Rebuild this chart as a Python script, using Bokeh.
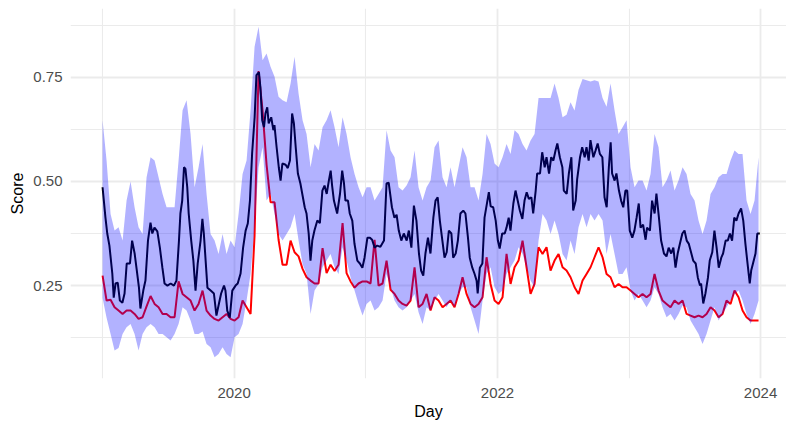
from datetime import datetime, timedelta
from bokeh.plotting import figure
from bokeh.models import Range1d, FixedTicker, DatetimeTickFormatter, PrintfTickFormatter
from bokeh.embed import file_html
from bokeh.resources import INLINE

# ---------------- data ----------------
start = datetime(2019, 1, 1)

# mean score (dark line): day offsets from 2019-01-01 and values
mean_day = [0, 8, 13, 19, 27, 31, 36, 42, 48, 55,
            61, 67, 76, 82, 89, 94, 101, 105, 113, 119,
            126, 133, 138, 144, 152, 159, 166, 172, 180, 189,
            198, 205, 212, 216, 221, 226, 230, 235, 239, 246,
            252, 258, 264, 272, 277, 281, 286, 291, 300, 309,
            316, 323, 329, 337, 341, 346, 353, 360, 369, 375,
            383, 390, 397, 403, 409, 415, 422, 427, 434, 438,
            443, 448, 452, 457, 461, 468, 474, 477, 483, 489,
            494, 499, 508, 514, 520, 526, 531, 536, 542, 549,
            554, 561, 566, 572, 577, 582, 588, 596, 603, 610,
            616, 622, 628, 633, 637, 642, 651, 659, 665, 670,
            674, 681, 686, 693, 699, 707, 714, 721, 727, 735,
            742, 748, 755, 762, 771, 781, 788, 794,
            803, 810, 816, 822, 829, 836, 844, 850, 857, 864,
            871, 878, 884, 890, 896, 903, 910, 918, 924, 930,
            936, 943, 949, 955, 961, 968, 973, 980, 986, 993,
            1001, 1007, 1014, 1019, 1026, 1032, 1038, 1041, 1047, 1054,
            1060, 1068, 1072, 1077, 1084, 1091, 1097, 1102, 1109, 1116,
            1121, 1127, 1132, 1140, 1146, 1152, 1158, 1165, 1171, 1177,
            1183, 1190, 1195, 1202, 1206, 1214, 1220, 1227, 1232, 1239,
            1245, 1251, 1257, 1262, 1269, 1276, 1280, 1288, 1294, 1301,
            1306, 1313, 1317, 1325, 1331, 1338, 1343, 1349, 1354, 1362,
            1368, 1374, 1380, 1387, 1393, 1399, 1405, 1410, 1414, 1421,
            1426, 1433, 1439, 1445, 1451, 1456, 1463, 1470, 1476, 1482,
            1488, 1493, 1500, 1507, 1511, 1519, 1525, 1532, 1537, 1544,
            1550, 1558, 1565, 1571, 1578, 1584, 1590, 1596, 1602, 1609,
            1615, 1621, 1627, 1634, 1639, 1646, 1652, 1658, 1661, 1667,
            1673, 1680, 1685, 1692, 1698, 1704, 1710, 1717, 1722, 1729,
            1735, 1741, 1747, 1753, 1759, 1765, 1772, 1778, 1784, 1789,
            1796, 1800, 1805, 1812, 1817, 1824]
mean_score = [0.486, 0.413, 0.375, 0.346, 0.279, 0.221, 0.255, 0.257, 0.214, 0.209,
              0.231, 0.303, 0.303, 0.358, 0.327, 0.293, 0.245, 0.195, 0.238, 0.262,
              0.358, 0.401, 0.375, 0.389, 0.38, 0.341, 0.293, 0.255, 0.25, 0.255,
              0.25, 0.262, 0.358, 0.423, 0.454, 0.534, 0.53, 0.486, 0.423, 0.358,
              0.31, 0.238, 0.303, 0.358, 0.41, 0.375, 0.31, 0.245, 0.238, 0.231,
              0.178, 0.207, 0.231, 0.25, 0.238, 0.19, 0.173, 0.238, 0.25, 0.255,
              0.279, 0.341, 0.382, 0.399, 0.454, 0.567, 0.654, 0.755, 0.762, 0.726,
              0.647, 0.63, 0.663, 0.678, 0.639, 0.654, 0.623, 0.635, 0.582, 0.534,
              0.502, 0.543, 0.54, 0.532, 0.55, 0.663, 0.639, 0.582, 0.519, 0.495,
              0.471, 0.438, 0.423, 0.375, 0.31, 0.358, 0.382, 0.406, 0.4, 0.478,
              0.49, 0.47, 0.502, 0.526, 0.49, 0.454, 0.423, 0.471, 0.526, 0.495,
              0.454, 0.454, 0.423, 0.406, 0.351, 0.31, 0.303, 0.293, 0.317, 0.365,
              0.365, 0.36, 0.341, 0.346, 0.343, 0.358, 0.495, 0.497,
              0.438, 0.413, 0.42, 0.382, 0.358, 0.375, 0.358, 0.382, 0.341, 0.442,
              0.406, 0.327, 0.286, 0.274, 0.327, 0.365, 0.327, 0.413, 0.454, 0.462,
              0.406, 0.358, 0.317, 0.33, 0.382, 0.375, 0.317, 0.327, 0.358, 0.423,
              0.43, 0.423, 0.365, 0.317, 0.293, 0.279, 0.262, 0.231, 0.293, 0.303,
              0.413, 0.454, 0.474, 0.44, 0.438, 0.406, 0.358, 0.339, 0.375, 0.375,
              0.389, 0.413, 0.382, 0.447, 0.478, 0.454, 0.43, 0.41, 0.454, 0.474,
              0.458, 0.462, 0.423, 0.478, 0.519, 0.519, 0.57, 0.534, 0.558, 0.519,
              0.558, 0.55, 0.574, 0.591, 0.558, 0.534, 0.478, 0.47, 0.519, 0.558,
              0.43, 0.454, 0.505, 0.558, 0.582, 0.558, 0.582, 0.55, 0.599, 0.558,
              0.574, 0.591, 0.566, 0.558, 0.462, 0.438, 0.534, 0.594, 0.519, 0.502,
              0.519, 0.478, 0.454, 0.438, 0.478, 0.478, 0.382, 0.365, 0.382, 0.413,
              0.447, 0.389, 0.396, 0.36, 0.389, 0.382, 0.454, 0.423, 0.471, 0.413,
              0.358, 0.327, 0.32, 0.341, 0.327, 0.341, 0.293, 0.327, 0.35, 0.375,
              0.382, 0.358, 0.35, 0.327, 0.31, 0.303, 0.269, 0.25, 0.255, 0.207,
              0.231, 0.269, 0.31, 0.33, 0.382, 0.341, 0.293, 0.317, 0.327, 0.358,
              0.358, 0.375, 0.358, 0.413, 0.406, 0.423, 0.435, 0.406, 0.35, 0.31,
              0.255, 0.286, 0.303, 0.327, 0.375, 0.375]

# ribbon bounds and red series, sampled every 11.1 days from 2019-01-01
grid_step_days = 11.1
upper = [0.647, 0.55, 0.422, 0.382, 0.39, 0.358, 0.454, 0.50, 0.438, 0.39,
         0.374, 0.51, 0.558, 0.55, 0.51, 0.47, 0.438, 0.438, 0.438, 0.55,
         0.671, 0.695, 0.614, 0.486, 0.534, 0.59, 0.47, 0.374, 0.358, 0.326,
         0.374, 0.326, 0.358, 0.342, 0.422, 0.518, 0.55, 0.671, 0.823, 0.871,
         0.791, 0.807, 0.775, 0.751, 0.703, 0.695, 0.69, 0.735, 0.799, 0.711,
         0.647, 0.614, 0.534, 0.59, 0.574, 0.63, 0.647, 0.671, 0.63, 0.582,
         0.654, 0.614, 0.558, 0.518, 0.486, 0.462, 0.486, 0.486, 0.454, 0.47,
         0.486, 0.623, 0.574, 0.558, 0.486, 0.478, 0.49, 0.51, 0.574, 0.486,
         0.454, 0.486, 0.502, 0.582, 0.598, 0.51, 0.486, 0.534, 0.486, 0.534,
         0.582, 0.558, 0.486, 0.486, 0.454, 0.518, 0.614, 0.59, 0.543, 0.534,
         0.558, 0.59, 0.566, 0.623, 0.614, 0.59, 0.574, 0.598, 0.614, 0.70,
         0.70, 0.70, 0.70, 0.735, 0.70, 0.654, 0.66, 0.69, 0.67, 0.72,
         0.746, 0.743, 0.74, 0.743, 0.74, 0.70, 0.679, 0.735, 0.671, 0.614,
         0.63, 0.647, 0.534, 0.486, 0.502, 0.502, 0.478, 0.518, 0.614, 0.582,
         0.486, 0.502, 0.526, 0.478, 0.502, 0.534, 0.518, 0.47, 0.454, 0.406,
         0.374, 0.406, 0.47, 0.486, 0.51, 0.518, 0.518, 0.55, 0.574, 0.566,
         0.566, 0.454, 0.422, 0.454, 0.558]
lower = [0.22, 0.173, 0.134, 0.094, 0.10, 0.134, 0.15, 0.158, 0.134, 0.094,
         0.134, 0.15, 0.158, 0.15, 0.134, 0.134, 0.126, 0.118, 0.134, 0.158,
         0.198, 0.19, 0.166, 0.134, 0.134, 0.14, 0.11, 0.102, 0.078, 0.086,
         0.102, 0.086, 0.078, 0.126, 0.134, 0.158, 0.214, 0.278, 0.39, 0.534,
         0.582, 0.454, 0.47, 0.422, 0.374, 0.358, 0.374, 0.39, 0.422, 0.358,
         0.302, 0.278, 0.182, 0.238, 0.254, 0.294, 0.31, 0.326, 0.294, 0.278,
         0.342, 0.31, 0.27, 0.238, 0.206, 0.178, 0.206, 0.214, 0.19, 0.198,
         0.214, 0.278, 0.246, 0.214, 0.198, 0.19, 0.198, 0.214, 0.23, 0.186,
         0.158, 0.198, 0.19, 0.214, 0.23, 0.214, 0.198, 0.214, 0.198, 0.23,
         0.246, 0.246, 0.198, 0.166, 0.134, 0.214, 0.278, 0.294, 0.246, 0.23,
         0.238, 0.278, 0.294, 0.31, 0.342, 0.326, 0.294, 0.262, 0.246, 0.358,
         0.422, 0.406, 0.374, 0.406, 0.374, 0.326, 0.31, 0.358, 0.326, 0.39,
         0.422, 0.39, 0.422, 0.406, 0.422, 0.406, 0.326, 0.374, 0.326, 0.278,
         0.278, 0.294, 0.238, 0.214, 0.23, 0.214, 0.198, 0.214, 0.246, 0.23,
         0.198, 0.174, 0.182, 0.166, 0.182, 0.202, 0.198, 0.166, 0.15, 0.134,
         0.11, 0.134, 0.166, 0.198, 0.166, 0.182, 0.198, 0.214, 0.23, 0.238,
         0.214, 0.182, 0.158, 0.182, 0.214]
red_score = [0.274, 0.214, 0.216, 0.198, 0.19, 0.182, 0.19, 0.19, 0.182, 0.17,
             0.174, 0.2, 0.225, 0.206, 0.198, 0.182, 0.182, 0.174, 0.174, 0.26,
             0.23, 0.222, 0.214, 0.19, 0.206, 0.238, 0.19, 0.178, 0.17, 0.166,
             0.174, 0.182, 0.17, 0.166, 0.174, 0.214, 0.198, 0.182, 0.37, 0.765,
             0.67, 0.54, 0.45, 0.45, 0.36, 0.30, 0.30, 0.358, 0.33, 0.32,
             0.29, 0.27, 0.262, 0.255, 0.255, 0.34, 0.28, 0.30, 0.285, 0.30,
             0.40, 0.28, 0.26, 0.245, 0.255, 0.26, 0.26, 0.255, 0.36, 0.25,
             0.255, 0.31, 0.24, 0.23, 0.214, 0.206, 0.202, 0.214, 0.294, 0.198,
             0.206, 0.23, 0.19, 0.222, 0.214, 0.198, 0.206, 0.214, 0.198, 0.23,
             0.27, 0.23, 0.206, 0.198, 0.206, 0.222, 0.318, 0.254, 0.214, 0.206,
             0.222, 0.326, 0.254, 0.294, 0.31, 0.358, 0.294, 0.23, 0.254, 0.342,
             0.326, 0.342, 0.286, 0.31, 0.326, 0.294, 0.286, 0.27, 0.246, 0.23,
             0.262, 0.278, 0.294, 0.318, 0.342, 0.318, 0.278, 0.27, 0.246, 0.254,
             0.246, 0.246, 0.238, 0.23, 0.222, 0.23, 0.222, 0.23, 0.278, 0.238,
             0.214, 0.206, 0.198, 0.214, 0.206, 0.214, 0.182, 0.178, 0.174, 0.178,
             0.174, 0.182, 0.198, 0.19, 0.174, 0.182, 0.214, 0.206, 0.238, 0.222,
             0.19, 0.174, 0.166, 0.166, 0.166]

x_major_years = [2020, 2022, 2024]
x_minor_years = [2019, 2021, 2023]
y_major_ticks = [0.25, 0.50, 0.75]
y_minor_ticks = [0.125, 0.375, 0.625, 0.875]

# ---------------- build ----------------
mean_dates = [start + timedelta(days=d) for d in mean_day]
grid_dates = [start + timedelta(days=k * grid_step_days) for k in range(len(upper))]

def ms(year):
    return (datetime(year, 1, 1) - datetime(1970, 1, 1)).total_seconds() * 1000.0

FONT = "Liberation Sans"

p = figure(width=786, height=423, output_backend="svg", toolbar_location=None,
           x_axis_type="datetime",
           x_range=Range1d(start + timedelta(days=-89), start + timedelta(days=1898)),
           y_range=Range1d(0.027, 0.915),
           min_border_left=70, min_border_right=0, min_border_top=8, min_border_bottom=45)
p.outline_line_color = None
p.background_fill_color = "white"
p.border_fill_color = "white"

# lines first, ribbon drawn over them (as in the reference)
p.line(grid_dates, red_score, line_color="red", line_width=2)
p.line(mean_dates, mean_score, line_color="black", line_width=2)
p.varea(x=grid_dates, y1=lower, y2=upper, fill_color="blue", fill_alpha=0.3)

p.xaxis.ticker = FixedTicker(ticks=[ms(y) for y in x_major_years],
                             minor_ticks=[ms(y) for y in x_minor_years])
p.xaxis.formatter = DatetimeTickFormatter(years="%Y", months="%Y", days="%Y",
                                          hours="%Y", minutes="%Y", seconds="%Y",
                                          milliseconds="%Y", microseconds="%Y")
p.yaxis.ticker = FixedTicker(ticks=y_major_ticks, minor_ticks=y_minor_ticks)
p.yaxis.formatter = PrintfTickFormatter(format="%.2f")

for ax in (p.xaxis, p.yaxis):
    ax.axis_line_color = None
    ax.major_tick_line_color = None
    ax.minor_tick_line_color = None
    ax.major_label_text_font = FONT
    ax.major_label_text_font_size = "15px"
    ax.major_label_text_color = "#4d4d4d"
    ax.axis_label_text_font = FONT
    ax.axis_label_text_font_size = "16px"
    ax.axis_label_text_font_style = "normal"
    ax.axis_label_text_color = "black"

p.xaxis.axis_label = "Day"
p.yaxis.axis_label = "Score"
p.xaxis.major_label_standoff = 3
p.yaxis.major_label_standoff = 2
p.xaxis.axis_label_standoff = 2
p.yaxis.axis_label_standoff = 4

for g in (p.xgrid, p.ygrid):
    g.grid_line_color = "#ebebeb"
    g.grid_line_width = 1.8
    g.minor_grid_line_color = "#ebebeb"
    g.minor_grid_line_width = 1.1

open("out.html", "w").write(file_html(p, INLINE))
